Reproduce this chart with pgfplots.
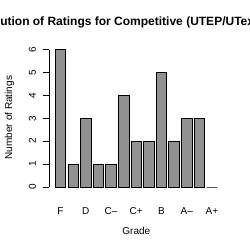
\documentclass[border=0pt]{standalone}
\usepackage{pgfplots}
\pgfplotsset{compat=1.18}
\usepackage{fontspec}
\setmainfont{Liberation Sans}
\definecolor{barfill}{RGB}{145,145,145}
\begin{document}
\begin{tikzpicture}[x=1pt,y=1pt]
\path[use as bounding box] (0,0) rectangle (250,250);
\begin{axis}[
  at={(49pt,63pt)}, anchor=south west,
  scale only axis, width=176pt, height=137.5pt,
  xmin=-0.915, xmax=13.03, ymin=0, ymax=6,
  axis lines*=left,
  x axis line style={draw=none},
  y axis line style={line width=0.8pt},
  clip=false,
  xtick={0,2,4,6,8,10,12},
  xticklabels={F,D,C–,C+,B,A–,A+},
  xtick style={draw=none},
  ytick={0,1,2,3,4,5,6},
  yticklabels={0,1,2,3,4,5,6},
  ytick style={line width=0.8pt, black},
  tick align=outside,
  major tick length=6pt,
  tick label style={font=\fontsize{10}{12}\selectfont},
  xticklabel style={anchor=base, inner sep=0pt, yshift=-21.5pt},
  yticklabel style={xshift=-7pt, rotate=90, anchor=base, inner sep=0pt},
  every axis x label/.style={at={(axis description cs:0.496,-0.349)}, anchor=base, font=\fontsize{10}{12}\selectfont},
  every axis y label/.style={at={(axis description cs:-0.210,0.505)}, rotate=90, anchor=base, font=\fontsize{10}{12}\selectfont},
  every axis title/.style={at={(axis description cs:-0.494,1.173)}, anchor=base west, inner sep=0pt, font=\fontsize{12}{14}\selectfont\bfseries},
  xlabel={Grade},
  ylabel={Number of Ratings},
  title={Distribution of Ratings for Competitive (UTEP/UTexas)},
  ybar, bar width=10.5pt,
]
\addplot[fill=barfill, draw=black, line width=0.8pt] coordinates {
(0,6) (1,1) (2,3) (3,1) (4,1) (5,4) (6,2) (7,2) (8,5) (9,2) (10,3) (11,3) (12,0)
};
\end{axis}
\end{tikzpicture}
\end{document}
